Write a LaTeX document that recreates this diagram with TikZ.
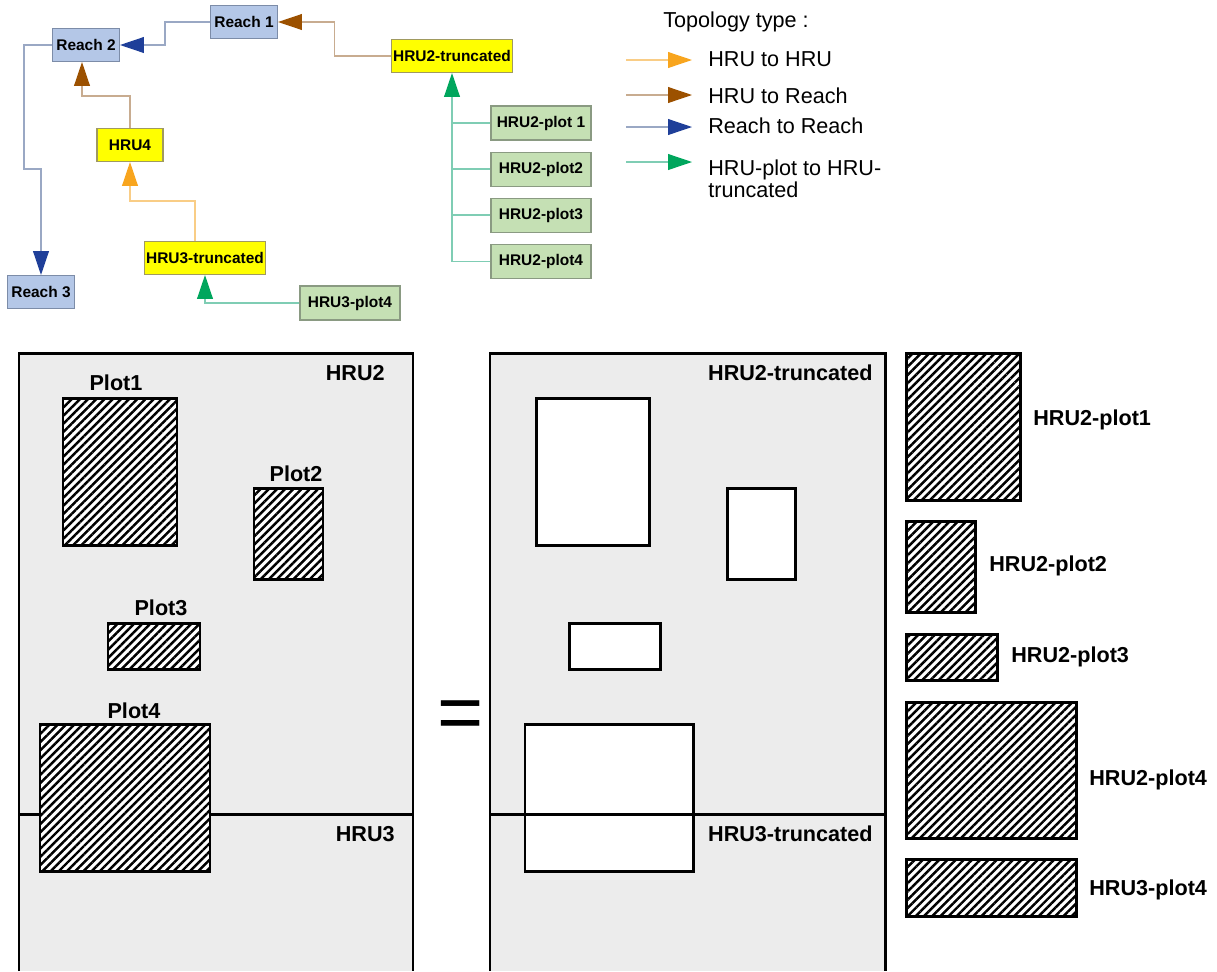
\documentclass[tikz,border=0pt]{standalone}
\usepackage{fontspec}
\setmainfont{Liberation Sans}
\usetikzlibrary{arrows.meta,positioning,patterns.meta}

\definecolor{tramofill}{HTML}{B4C7E7}
\definecolor{tramoline}{HTML}{7C8CA8}
\definecolor{hrufill}{HTML}{FFFF00}
\definecolor{hruline}{HTML}{A09A60}
\definecolor{parcelafill}{HTML}{C5E0B4}
\definecolor{parcelaline}{HTML}{8A9A82}
\definecolor{hhtip}{HTML}{F8A51E}
\definecolor{hhline}{HTML}{F9CD86}
\definecolor{hrtip}{HTML}{9C5100}
\definecolor{hrline}{HTML}{C8AC90}
\definecolor{rrtip}{HTML}{1F3F99}
\definecolor{rrline}{HTML}{9AA8C4}
\definecolor{pptip}{HTML}{00A65D}
\definecolor{ppline}{HTML}{7FCDB4}
\definecolor{zonagris}{HTML}{ECECEC}

\tikzset{
  caja/.style={
    rectangle, align=center, inner xsep=1.1pt, line width=0.6pt,
    font=\fontsize{8.8}{10}\selectfont\bfseries},
  tramo/.style={caja, draw=tramoline, fill=tramofill,
    minimum width=1.34cm, minimum height=0.66cm},
  hru/.style={caja, draw=hruline, fill=hrufill,
    minimum width=1.32cm, minimum height=0.66cm},
  parcela/.style={caja, draw=parcelaline, fill=parcelafill,
    minimum width=2cm, minimum height=0.68cm},
  punta/.style={-{Triangle[length=13.6pt,width=9pt,color=#1]}},
  flechahh/.style={draw=hhline, line width=0.7pt, punta=hhtip},
  flechahr/.style={draw=hrline, line width=0.7pt, punta=hrtip},
  flecharr/.style={draw=rrline, line width=0.7pt, punta=rrtip},
  flechapp/.style={draw=ppline, line width=0.7pt, punta=pptip},
  lineapp/.style={draw=ppline, line width=0.7pt},
  leyenda/.style={inner sep=0pt, align=left,
    font=\fontsize{12.3}{12.6}\selectfont},
  zona/.style={draw=black, line width=1.7pt},
  rayado/.style={draw=black, line width=1.7pt, preaction={fill=white},
    pattern={Lines[angle=45,distance=3.3pt,line width=1.4pt]}},
  hueco/.style={draw=black, line width=1.7pt, fill=white},
  etiq/.style={inner sep=0pt, font=\fontsize{12.3}{14}\selectfont\bfseries}
}

\begin{document}
\begin{tikzpicture}[x=0.02cm, y=-0.02cm]
\useasboundingbox (0,0) rectangle (1217,971);

% topologia
\node[tramo] (reach1) at (244,22) {Reach 1};
\node[tramo] (reach2) at (86,45) {Reach 2};
\node[tramo] (reach3) at (41,292) {Reach 3};
\node[hru] (hru4) at (130,145) {HRU4};
\node[hru] (hru3t) at (205,258) {HRU3-truncated};
\node[hru] (hru2t) at (452,56) {HRU2-truncated};
\node[parcela] (hru3p4) at (350,303) {HRU3-plot4};
\node[parcela] (hru2p1) at (541,123) {HRU2-plot 1};
\node[parcela, below=0.22cm of hru2p1] (hru2p2) {HRU2-plot2};
\node[parcela, below=0.22cm of hru2p2] (hru2p3) {HRU2-plot3};
\node[parcela, below=0.22cm of hru2p3] (hru2p4) {HRU2-plot4};

\draw[flecharr] (reach1.west) -- ++(-45,0) |- (reach2.east);
\draw[flecharr] (reach2.west) -- ++(-28,0) -- ++(0,124) -| (reach3.north);
\draw[flechahr] (hru2t.west) -- ++(-56,0) |- (reach1.east);
\draw[flechahr] (hru4.north) -- ++(0,-32) -| ([xshift=-0.08cm]reach2.south);
\draw[flechahh] ([xshift=-0.2cm]hru3t.north) -- ++(0,-40) -| (hru4.south);
\draw[flechapp] (hru3p4.west) -| (hru3t.south);
\draw[flechapp] (hru2p4.west) -| (hru2t.south);
\foreach \p in {hru2p1,hru2p2,hru2p3}
  \draw[lineapp] (\p.west) -- (\p.west -| hru2t.south);

% leyenda
\node[leyenda, anchor=west] (titulo) at (663,22) {Topology type :};
\foreach \y/\estilo/\nombre in {60/flechahh/hh, 95/flechahr/hr, 127/flecharr/rr, 162/flechapp/pp} {
  \coordinate (\nombre a) at (626,\y);
  \coordinate (\nombre b) at (692,\y);
  \draw[\estilo] (\nombre a) -- (\nombre b);
}
\node[leyenda, anchor=west] (leyhh) at (708,59) {HRU to HRU};
\node[leyenda, anchor=west] (leyhr) at (708,96) {HRU to Reach};
\node[leyenda, anchor=west] (leyrr) at (708,126) {Reach to Reach};
\node[leyenda, anchor=north west] (leypp) at (708,159) {HRU-plot to HRU-\\truncated};

% zonas
\fill[zonagris] (19,353) rectangle (413,971);
\draw[zona] (19,971) |- (413,353) -- (413,971);
\draw[zona] (19,814) -- (413,814);
\fill[zonagris] (490,353) rectangle (885,971);
\draw[zona] (490,971) |- (885,353) -- (885,971);

\draw[rayado] (63,398) rectangle (177,545);
\draw[rayado] (254,488) rectangle (323,579);
\draw[rayado] (108,623) rectangle (200,669);
\draw[rayado] (40,724) rectangle (210,871);

\draw[hueco] (536,398) rectangle (649,545);
\draw[hueco] (727,488) rectangle (795,579);
\draw[hueco] (569,623) rectangle (660,669);
\draw[hueco] (525,724) rectangle (693,871);
\draw[zona] (490,814) -- (885,814);

\draw[rayado] (906,353) rectangle (1020,500);
\draw[rayado] (906,521) rectangle (975,612);
\draw[rayado] (906,634) rectangle (997,680);
\draw[rayado] (906,702) rectangle (1076,838);
\draw[rayado] (906,859) rectangle (1076,916);

\node[etiq, anchor=mid east] (lhru2) at (385,376) {HRU2};
\node[etiq, anchor=mid east] (lhru3) at (395,837) {HRU3};
\node[etiq, anchor=mid] (lplot1) at (116,386) {Plot1};
\node[etiq, anchor=mid] (lplot2) at (296,477) {Plot2};
\node[etiq, anchor=mid] (lplot3) at (161,611) {Plot3};
\node[etiq, anchor=mid] (lplot4) at (134,714) {Plot4};
\node[etiq, anchor=mid east] (lhru2t) at (873,376) {HRU2-truncated};
\node[etiq, anchor=mid east] (lhru3t) at (873,837) {HRU3-truncated};
\node[etiq, anchor=mid west] (lp1) at (1033,421) {HRU2-plot1};
\node[etiq, anchor=mid west] (lp2) at (989,567) {HRU2-plot2};
\node[etiq, anchor=mid west] (lp3) at (1011,658) {HRU2-plot3};
\node[etiq, anchor=mid west] (lp4) at (1089,781) {HRU2-plot4};
\node[etiq, anchor=mid west] (lp5) at (1089,891) {HRU3-plot4};

\node[inner sep=0pt, font=\fontsize{45}{45}\selectfont] (igual) at (461,720) {=};

\end{tikzpicture}
\end{document}
